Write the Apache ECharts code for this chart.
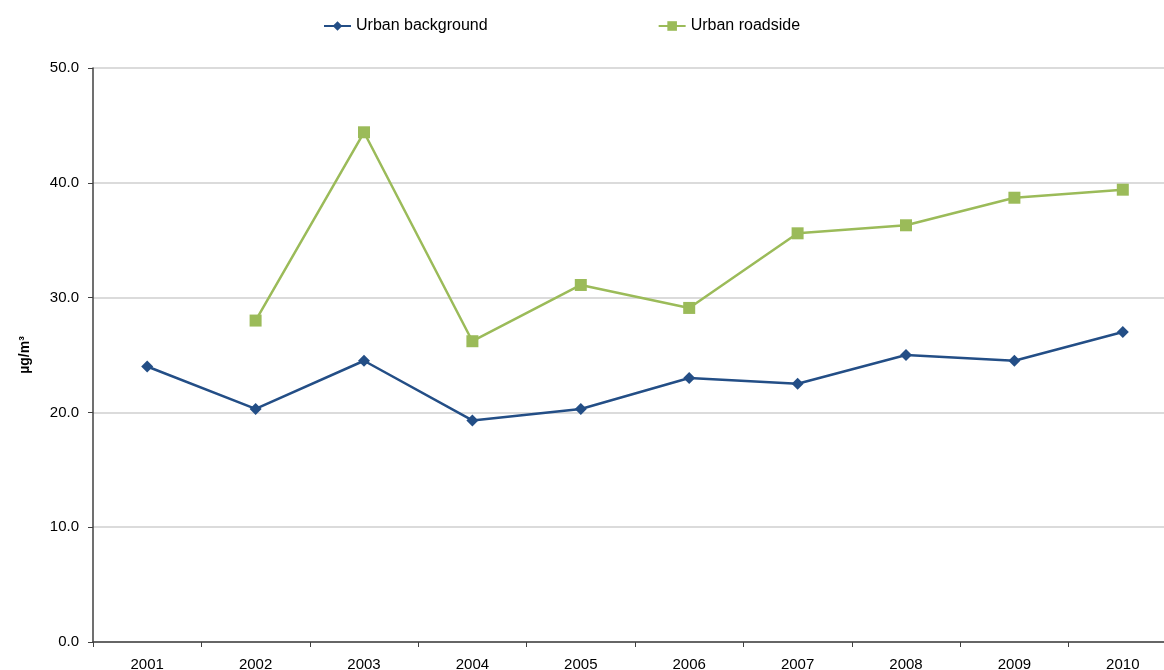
<!DOCTYPE html>
<html>
<head>
<meta charset="utf-8">
<script src="https://cdn.jsdelivr.net/npm/echarts@6/dist/echarts.min.js"></script>
<style>
  html, body { margin: 0; padding: 0; background: #fff; overflow: hidden; }
  #chart { width: 1177px; height: 670px; }
</style>
</head>
<body>
<div id="chart"></div>
<script>
const years = ['2001', '2002', '2003', '2004', '2005', '2006', '2007', '2008', '2009', '2010']
const urbanBackground = [24.0, 20.3, 24.5, 19.3, 20.3, 23.0, 22.5, 25.0, 24.5, 27.0]
const urbanRoadside = [null, 28.0, 44.4, 26.2, 31.1, 29.1, 35.6, 36.3, 38.7, 39.4]

const chart = echarts.init(document.getElementById('chart'))
const font = 'Liberation Sans, Arial, sans-serif'

chart.setOption({
  animation: false,
  legend: {
    top: 13,
    left: 318,
    itemWidth: 27,
    itemHeight: 12,
    itemGap: 170,
    textStyle: { fontFamily: font, fontSize: 16, color: '#000' },
    data: ['Urban background', 'Urban roadside']
  },
  grid: { left: 93, right: 0, top: 68, bottom: 28, outerBoundsMode: 'none', containLabel: false },
  xAxis: {
    type: 'category',
    data: years,
    boundaryGap: true,
    axisLine: { lineStyle: { color: '#404040', width: 1.5 } },
    axisTick: { show: true, length: 5, alignWithLabel: false, lineStyle: { color: '#404040' } },
    axisLabel: { fontFamily: font, fontSize: 15, color: '#000', margin: 15 }
  },
  yAxis: {
    type: 'value',
    min: 0,
    max: 50,
    interval: 10,
    name: 'µg/m³',
    nameLocation: 'middle',
    nameRotate: 90,
    nameGap: 61,
    nameTextStyle: { fontFamily: font, fontSize: 14, fontWeight: 'bold', color: '#000' },
    axisLine: { show: true, lineStyle: { color: '#404040', width: 1.5 } },
    axisTick: { show: true, length: 5, lineStyle: { color: '#404040' } },
    axisLabel: {
      fontFamily: font, fontSize: 15, color: '#000', margin: 14,
      formatter: function (v) { return v.toFixed(1) }
    },
    splitLine: { lineStyle: { color: '#cfcfcf', width: 1.5 } }
  },
  series: [
    {
      name: 'Urban background',
      type: 'line',
      data: urbanBackground,
      symbol: 'diamond',
      symbolSize: 12,
      color: '#234e86',
      lineStyle: { width: 2.5, color: '#234e86' },
      itemStyle: { color: '#234e86' }
    },
    {
      name: 'Urban roadside',
      type: 'line',
      data: urbanRoadside,
      symbol: 'rect',
      symbolSize: 12,
      color: '#9bbb59',
      lineStyle: { width: 2.5, color: '#9bbb59' },
      itemStyle: { color: '#9bbb59' }
    }
  ]
})
</script>
</body>
</html>
